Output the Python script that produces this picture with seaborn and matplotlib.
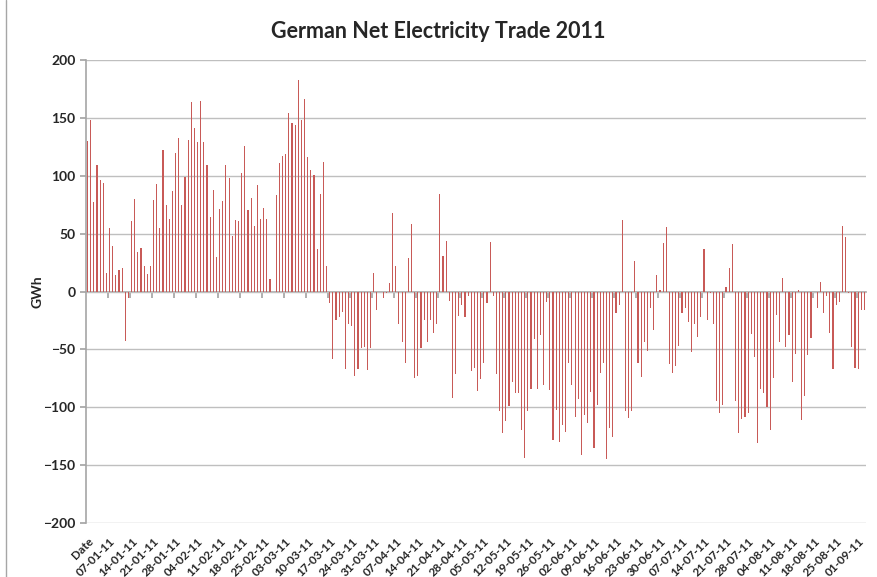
import numpy as np
import pandas as pd
import seaborn as sns
import matplotlib.pyplot as plt
from matplotlib.lines import Line2D

sns.set_theme(style="white")
plt.rcParams['font.family'] = ['Lato', 'DejaVu Sans']

# daily net trade in GWh (export +, import -)
trade_winter = [130, 148, 77, 109, 96, 94, 16, 55, 39, 14, 19, 20, -43, -6,
                61, 80, 34, 38, 22, 15, 22, 79, 93, 55, 122, 75, 63, 87,
                120, 133, 75, 99, 131, 164, 141, 129, 165, 129, 109, 64, 88, 30,
                71, 78, 109, 98, 48, 62, 61, 102, 126, 70, 81, 57, 92, 63,
                72, 63, 11, 0, 83, 111,
                117, 119, 154, 146, 144, 183, 148, 166, 116, 105, 101, 37, 84, 112, 22]
trade_spring = [-10, -58, -25, -22, -18, -67, -28, -30, -73, -67, -49, -48, -68, -49,
                16, -16, 0, -6, -1, 7, 68, 22, -28, -44, -62, 29, 58,
                -75, -73, -49, -25, -44, -25, -36, -28, 84, 31, 44, -8,
                -92, -71, -21, -12, -22, -4, -69, -66, -86, -76, -62, -10, 43, -4, -71,
                -103, -122, -112, -99, -78, -88, -88]
trade_summer = [-120, -144, -103, -84, -41, -84, -38, -81, -9, -85,
                -128, -102, -130, -115, -121, -62, -81, -108, -93, -141,
                -107, -114, -87, -135, -98, -70, -62, -145, -118, -126, -19, -12,
                62, -103, -109, -103, 26, -62, -74, -44, -51, -14,
                -33, 14, 1.5, 42, 56, -63, -70, -64, -47, -19, -14, -26, -52, -28, -39]
trade_late = [-22, 37, -25, -1, -28, -95, -105, -98, 4, 20.5,
              41, -95, -122, -110, -108, -105, -37, -57, -131, -84,
              -88, -100, -120, -75, -20, -44, 11.5, -48, -38, -78,
              -54, 1.5, -111, -90, -55, -40, 0, -14, 8, -19,
              -4, -36, -67, -12, -9, 57, 47, -1, -48, -66, -67, -16, -16]

net_gwh = trade_winter + trade_spring + trade_summer + trade_late
day_idx = list(range(len(net_gwh)))

week_labels = ['Date', '07-01-11', '14-01-11', '21-01-11', '28-01-11', '04-02-11',
               '11-02-11', '18-02-11', '25-02-11', '03-03-11', '10-03-11', '17-03-11',
               '24-03-11', '31-03-11', '07-04-11', '14-04-11', '21-04-11', '28-04-11',
               '05-05-11', '12-05-11', '19-05-11', '26-05-11', '02-06-11', '09-06-11',
               '16-06-11', '23-06-11', '30-06-11', '07-07-11', '14-07-11', '21-07-11',
               '28-07-11', '04-08-11', '11-08-11', '18-08-11', '25-08-11', '01-09-11']

df = pd.DataFrame({'day': day_idx, 'GWh': net_gwh})

fig, ax = plt.subplots(figsize=(8.77, 5.77), dpi=100)
fig.subplots_adjust(left=0.098, right=0.9875, top=0.896, bottom=0.0936)

sns.barplot(data=df, x='day', y='GWh', color='#C85A57', width=0.36,
            saturation=1, linewidth=0, errorbar=None, ax=ax)

ax.set_xlim(-0.5, len(net_gwh) - 0.5)
ax.set_ylim(-200, 200)
ax.set_yticks(range(-200, 201, 50))
ax.grid(axis='y', color='#BFBFBF', lw=1)
ax.set_axisbelow(True)
for s in ['top', 'right', 'bottom']:
    ax.spines[s].set_visible(False)
ax.spines['left'].set_color('#A6A6A6')
ax.spines['left'].set_linewidth(1.2)

tick_pos = list(range(0, len(net_gwh), 7))
ax.set_xticks(tick_pos)
ax.set_xticklabels(week_labels[:len(tick_pos)], rotation=45, ha='right',
                   rotation_mode='anchor', fontsize=8.5, fontweight='bold')
ax.tick_params(axis='x', length=0, pad=9)
ax.tick_params(axis='y', length=4, color='#A6A6A6', left=True, labelsize=10)
for t in ax.get_yticklabels():
    t.set_fontweight('bold')
ax.set_xlabel('')
ax.set_ylabel('GWh', fontsize=10, fontweight='bold', labelpad=0)

# category axis crossing at zero, tick marks between week groups
zero_ax = ax.secondary_xaxis(0.5)
zero_ax.set_alignment('bottom')
zero_ax.set_xticks(np.arange(6.5, len(net_gwh), 7))
zero_ax.tick_params(axis='x', length=4, color='#A6A6A6', labelbottom=False)
zero_ax.spines['bottom'].set_color('#A6A6A6')
zero_ax.spines['bottom'].set_linewidth(1.2)

fig.suptitle('German Net Electricity Trade 2011', fontsize=15.5,
             fontweight='bold', y=0.946, va='center')
fig.add_artist(Line2D([0.007, 0.007], [0, 1], color='#A6A6A6', lw=1))

fig.savefig('out.png', dpi=100)
